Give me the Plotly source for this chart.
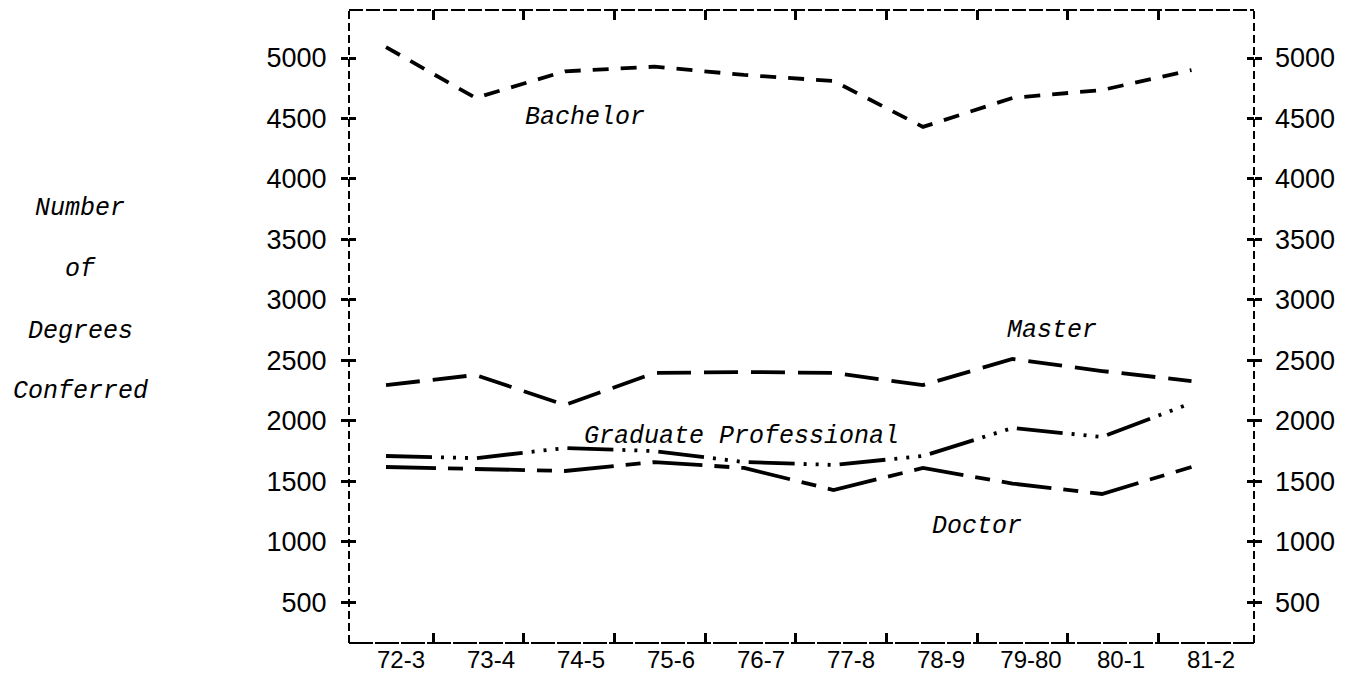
import plotly.graph_objects as go

# ---------------- data ----------------
categories = ["72-3", "73-4", "74-5", "75-6", "76-7", "77-8", "78-9", "79-80", "80-1", "81-2"]
bachelor = [5090, 4670, 4890, 4928, 4860, 4810, 4430, 4670, 4735, 4900]
master = [2295, 2378, 2130, 2395, 2403, 2395, 2295, 2510, 2411, 2328]
graduate_prof = [1708, 1690, 1774, 1749, 1658, 1634, 1708, 1940, 1865, 2146]
doctor = [1617, 1600, 1584, 1658, 1609, 1427, 1609, 1480, 1394, 1617]
y_ticks = [500, 1000, 1500, 2000, 2500, 3000, 3500, 4000, 4500, 5000]

# ---------------- geometry helpers (pixel -> axis units) ----------------
W, H = 1355, 674
PL, PR, PT, PB = 349, 1254, 10, 643


def px2x(px):
    return (px - 386) / 89.5


def py2y(py):
    return 5000 - (py - 58) / 0.1209


x_range = [px2x(PL), px2x(PR)]
y_range = [py2y(PB), py2y(PT)]
x_idx = list(range(len(categories)))

label_pos = [px2x(401 + 90 * i) for i in range(len(categories))]
tick_pos = [px2x(433 + 90.7 * i) for i in range(len(categories) - 1)]

sans = "Liberation Sans"
mono = "Liberation Mono"

fig = go.Figure()

styles = [
    (bachelor, "Bachelor", "16px,12px"),
    (master, "Master", "34px,13px"),
    (graduate_prof, "Graduate Professional", "46px,9px,3px,9px,3px,9px,3px,9px"),
    (doctor, "Doctor", "50px,12px,15px,12px"),
]
for vals, name, dash in styles:
    fig.add_trace(go.Scatter(
        x=x_idx, y=vals, mode="lines", name=name,
        line=dict(color="black", width=3.8, dash=dash),
        showlegend=False, hoverinfo="skip",
    ))

# helper trace so secondary axes are drawn
fig.add_trace(go.Scatter(x=[None], y=[None], xaxis="x2", yaxis="y2",
                         showlegend=False, hoverinfo="skip"))

fig.update_layout(
    width=W, height=H,
    margin=dict(l=PL, r=W - PR, t=PT, b=H - PB, pad=0, autoexpand=False),
    paper_bgcolor="white", plot_bgcolor="white",
    xaxis=dict(
        range=x_range, tickmode="array", tickvals=label_pos, ticktext=categories,
        ticks="", showgrid=False, zeroline=False, showline=False, automargin=False,
        tickfont=dict(family=sans, size=24, color="black"),
        ticklabelstandoff=0,
    ),
    xaxis2=dict(
        range=x_range, overlaying="x", anchor="y2", side="bottom",
        tickmode="array", tickvals=tick_pos, showticklabels=False,
        ticks="inside", ticklen=10, tickwidth=3, tickcolor="black", automargin=False,
        mirror="ticks", showgrid=False, zeroline=False, showline=False,
    ),
    yaxis=dict(
        range=y_range, tickmode="array", tickvals=y_ticks,
        ticks="outside", ticklen=7, tickwidth=2.5, tickcolor="black",
        mirror="ticks", showgrid=False, zeroline=False, showline=False, automargin=False,
        tickfont=dict(family=sans, size=27, color="black"),
        ticklabelstandoff=9,
    ),
    yaxis2=dict(
        range=y_range, overlaying="y", anchor="x2", side="right",
        tickmode="array", tickvals=y_ticks,
        ticks="inside", ticklen=7, tickwidth=2.5, tickcolor="black",
        mirror="ticks", showgrid=False, zeroline=False, showline=False, automargin=False,
        tickfont=dict(family=sans, size=27, color="black"),
        ticklabelstandoff=20,
    ),
)

# dashed frame
frame = [
    dict(x0=0, x1=0, y0=0, y1=1, dash="8px,4px"),
    dict(x0=1, x1=1, y0=0, y1=1, dash="8px,4px"),
    dict(x0=0, x1=1, y0=1, y1=1, dash="14px,3px"),
    dict(x0=0, x1=1, y0=0, y1=0, dash="24px,2px"),
]
for f in frame:
    fig.add_shape(type="line", xref="paper", yref="paper",
                  x0=f["x0"], x1=f["x1"], y0=f["y0"], y1=f["y1"],
                  line=dict(color="black", width=2, dash=f["dash"]))

# in-plot labels
labels = [
    ("Bachelor", 585, 117),
    ("Master", 1052, 330),
    ("Graduate Professional", 741, 436),
    ("Doctor", 977, 526),
]
for txt, px, py in labels:
    fig.add_annotation(x=px2x(px), y=py2y(py), xref="x", yref="y", text=txt,
                       showarrow=False, xanchor="center", yanchor="middle",
                       font=dict(family=mono, size=25, color="black", style="italic"))

# y-axis title (stacked words)
title_lines = [("Number", 209), ("of", 269), ("Degrees", 331), ("Conferred", 392)]
for txt, py in title_lines:
    fig.add_annotation(x=(80 - PL) / (PR - PL), y=(PB - py) / (PB - PT),
                       xref="paper", yref="paper", text=txt, showarrow=False,
                       xanchor="center", yanchor="middle",
                       font=dict(family=mono, size=25, color="black", style="italic"))

fig.write_html("out.html", config={"displayModeBar": False},
               post_script="document.body.style.margin='0';")
